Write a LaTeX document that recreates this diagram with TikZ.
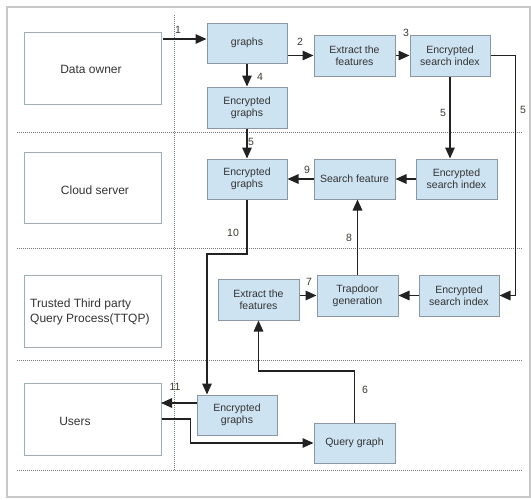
\documentclass[tikz,border=0pt]{standalone}
\usepackage{fontspec}
\setmainfont{Liberation Sans}
\usetikzlibrary{arrows.meta}
\definecolor{boxfill}{HTML}{CDE3F2}
\definecolor{boxline}{HTML}{8A98A3}
\definecolor{txt}{HTML}{333333}
\definecolor{numc}{HTML}{3A3A30}
\definecolor{frame}{HTML}{C8C8C8}
\definecolor{sep}{HTML}{777777}
\definecolor{arrc}{HTML}{222222}
\begin{document}
\begin{tikzpicture}[x=1pt,y=-1pt,
  bluebox/.style={draw=boxline, fill=boxfill, line width=1pt, text=txt,
    font=\fontsize{10.5}{12}\selectfont, align=center, inner sep=0pt,
    minimum width=80pt, minimum height=40pt},
  rolebox/.style={draw=boxline!80, fill=white, line width=1pt,
    minimum width=137pt, minimum height=72pt, inner sep=0pt},
  roletext/.style={text=txt, font=\fontsize{12}{15}\selectfont, align=left, inner sep=0pt},
  arr/.style={draw=arrc, line width=1.5pt, -{Triangle[length=11pt,width=9.5pt]}},
  num/.style={text=numc, font=\fontsize{10.5}{12}\selectfont, inner sep=0pt},
  sepline/.style={draw=sep, line width=0.9pt, dash pattern=on 1pt off 1pt}]
\useasboundingbox (0,0) rectangle (531,499);
\draw[frame, line width=1.5pt] (7,7) rectangle (530,497);
% separators
\coordinate (h1a) at (17,132); \coordinate (h1b) at (523,132);
\coordinate (h2a) at (17,248); \coordinate (h2b) at (523,248);
\coordinate (h3a) at (17,360); \coordinate (h3b) at (523,360);
\coordinate (h4a) at (17,470); \coordinate (h4b) at (523,470);
\coordinate (v1a) at (174,15); \coordinate (v1b) at (174,470);
\draw[sepline] (h1a) -- (h1b);
\draw[sepline] (h2a) -- (h2b);
\draw[sepline] (h3a) -- (h3b);
\draw[sepline] (h4a) -- (h4b);
\draw[sepline] (v1a) -- (v1b);
% role boxes
\node[rolebox] (do) at (92.5,68) {};
\node[rolebox, minimum height=71pt] (cs) at (92.5,187.5) {};
\node[rolebox] (tt) at (92.5,311) {};
\node[rolebox] (us) at (92.5,419) {};
\node[roletext] (tdo) at (91,69) {Data owner};
\node[roletext] (tcs) at (95,190) {Cloud server};
\node[roletext, anchor=west] (ttt) at (30,312) {Trusted Third party\\Query Process(TTQP)};
\node[roletext] (tus) at (75,421) {Users};
% blue boxes
\node[bluebox] (g) at (247,43) {graphs};
\node[bluebox, minimum height=41pt] (eg1) at (247,107.5) {Encrypted\\graphs};
\node[bluebox] (eg2) at (247,179) {Encrypted\\graphs};
\node[bluebox, minimum width=81pt, minimum height=41pt] (ef1) at (354.5,55.5) {Extract the\\features};
\node[bluebox, minimum height=41pt] (esi1) at (450,55.5) {Encrypted\\search index};
\node[bluebox, minimum width=81pt] (esi2) at (456.5,179) {Encrypted\\search index};
\node[bluebox, minimum width=81pt] (sf) at (354.5,179) {Search feature};
\node[bluebox, minimum width=81pt, minimum height=41pt] (td) at (357.5,295.5) {Trapdoor\\generation};
\node[bluebox, minimum height=41pt] (esi3) at (459,295.5) {Encrypted\\search index};
\node[bluebox, minimum width=81pt, minimum height=41pt] (ef2) at (258.5,299.5) {Extract the\\features};
\node[bluebox] (eg3) at (237,415) {Encrypted\\graphs};
\node[bluebox, minimum width=81pt] (qg) at (354.5,443) {Query graph};
% connectors
\coordinate (a1) at (163,39);
\draw[arr] (a1) -- (a1 -| g.west);
\draw[arr] (g.east |- ef1.west) -- (ef1.west);
\draw[arr] (ef1.east) -- (esi1.west);
\draw[arr] (g.south) -- (eg1.north);
\draw[arr] (eg1.south) -- (eg2.north);
\draw[arr] (esi1.south) -- (esi1.south |- esi2.north);
\draw[arr] (esi1.east) -- ++(25,0) |- (esi3.east);
\draw[arr] (esi2.west) -- (sf.east);
\draw[arr] (sf.west) -- (eg2.east);
\draw[arr] (td.north) -- (td.north |- sf.south);
\draw[arr] (ef2.east |- td.west) -- (td.west);
\draw[arr] (esi3.west) -- (td.east);
\coordinate (c10) at (207,254);
\draw[arr] (eg2.south) |- (c10) -- (c10 |- eg3.north);
\coordinate (c11) at (161,403);
\draw[arr] (eg3.west |- c11) -- (c11);
\draw[arr] (us.east) -- ++(29,0) |- (qg.west);
\coordinate (c6) at (258.5,371);
\draw[arr] (qg.north) |- (c6) -- (ef2.south);
% numbers
\node[num] (n1) at (178,30) {1};
\node[num] (n2) at (300,42) {2};
\node[num] (n3) at (406,33) {3};
\node[num] (n4) at (260,77) {4};
\node[num] (n5a) at (251,142) {5};
\node[num] (n5b) at (443,113) {5};
\node[num] (n5c) at (523,110) {5};
\node[num] (n9) at (307,170) {9};
\node[num] (n8) at (349,238) {8};
\node[num] (n7) at (309,282) {7};
\node[num] (n10) at (233,233) {10};
\node[num] (n11) at (175,387) {11};
\node[num] (n6) at (365,390) {6};
\end{tikzpicture}
\end{document}
